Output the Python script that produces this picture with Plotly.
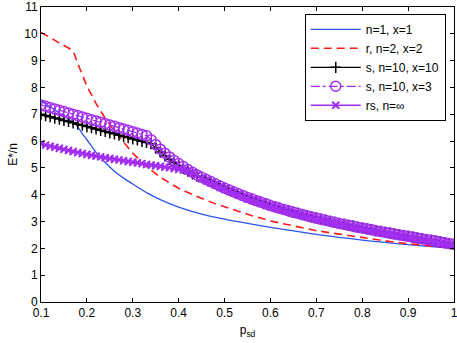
import plotly.graph_objects as go

# Colors (MATLAB-like)
COLOR_BLUE = "#2b55f0"
COLOR_RED = "#ff1a1a"
COLOR_BLACK = "#000000"
COLOR_PURPLE = "#a22cf0"

# Dense grid shared by the marker series (p_sd = 0.10 ... 1.00)
P_SD = [0.10, 0.11, 0.12, 0.13, 0.14, 0.15, 0.16, 0.17, 0.18, 0.19,
        0.20, 0.21, 0.22, 0.23, 0.24, 0.25, 0.26, 0.27, 0.28, 0.29,
        0.30, 0.31, 0.32, 0.33, 0.34, 0.35, 0.36, 0.37, 0.38, 0.39,
        0.40, 0.41, 0.42, 0.43, 0.44, 0.45, 0.46, 0.47, 0.48, 0.49,
        0.50, 0.51, 0.52, 0.53, 0.54, 0.55, 0.56, 0.57, 0.58, 0.59,
        0.60, 0.61, 0.62, 0.63, 0.64, 0.65, 0.66, 0.67, 0.68, 0.69,
        0.70, 0.71, 0.72, 0.73, 0.74, 0.75, 0.76, 0.77, 0.78, 0.79,
        0.80, 0.81, 0.82, 0.83, 0.84, 0.85, 0.86, 0.87, 0.88, 0.89,
        0.90, 0.91, 0.92, 0.93, 0.94, 0.95, 0.96, 0.97, 0.98, 0.99, 1.00]

# n=1, x=1
P_BLUE = [0.10, 0.12, 0.14, 0.16, 0.177, 0.19, 0.20, 0.22, 0.24, 0.26, 0.28, 0.30,
          0.33, 0.36, 0.40, 0.45, 0.50, 0.55, 0.60, 0.65, 0.70, 0.75, 0.80, 0.85,
          0.90, 0.95, 1.00]
E_BLUE = [7.50, 7.28, 7.05, 6.82, 6.60, 6.28, 6.05, 5.58, 5.20, 4.88, 4.62, 4.40,
          4.08, 3.82, 3.54, 3.28, 3.09, 2.93, 2.78, 2.65, 2.52, 2.41, 2.31, 2.22,
          2.14, 2.07, 2.00]

# r, n=2, x=2
P_RED = [0.10, 0.12, 0.14, 0.16, 0.17, 0.18, 0.19, 0.20, 0.22, 0.24, 0.26, 0.28,
         0.30, 0.33, 0.36, 0.40, 0.44, 0.48, 0.52, 0.56, 0.60, 0.65, 0.70, 0.75,
         0.80, 0.85, 0.90, 0.95, 1.00]
E_RED = [10.05, 9.86, 9.66, 9.47, 9.37, 8.90, 8.45, 8.05, 7.40, 6.85, 6.37, 5.95,
         5.55, 5.05, 4.65, 4.24, 3.93, 3.66, 3.43, 3.22, 3.02, 2.83, 2.66, 2.53,
         2.40, 2.28, 2.17, 2.08, 2.00]

# s, n=10, x=10 (0.10 ... 0.44)
E_S10_HEAD = [7.00, 6.95, 6.91, 6.86, 6.82, 6.77, 6.73, 6.68, 6.63, 6.59,
              6.54, 6.50, 6.45, 6.40, 6.36, 6.31, 6.27, 6.22, 6.17, 6.13,
              6.08, 6.04, 5.99, 5.95, 5.90, 5.74, 5.59, 5.45, 5.32, 5.20,
              5.09, 4.98, 4.88, 4.78, 4.69]

# s, n=10, x=3 (0.10 ... 0.44)
E_S3_HEAD = [7.35, 7.30, 7.25, 7.20, 7.15, 7.10, 7.05, 7.00, 6.95, 6.90,
             6.85, 6.80, 6.75, 6.70, 6.65, 6.60, 6.55, 6.50, 6.45, 6.40,
             6.35, 6.30, 6.25, 6.20, 6.05, 5.87, 5.70, 5.55, 5.41, 5.28,
             5.16, 5.05, 4.94, 4.84, 4.74]

# shared tail of both s curves (0.45 ... 1.00)
E_S_TAIL = [4.65, 4.57, 4.49, 4.41, 4.33, 4.25, 4.18, 4.11, 4.04, 3.97,
            3.90, 3.84, 3.78, 3.72, 3.66, 3.60, 3.55, 3.50, 3.45, 3.40,
            3.35, 3.31, 3.26, 3.22, 3.17, 3.13, 3.09, 3.05, 3.01, 2.97,
            2.93, 2.90, 2.86, 2.83, 2.79, 2.76, 2.73, 2.70, 2.66, 2.63,
            2.60, 2.57, 2.54, 2.51, 2.48, 2.45, 2.42, 2.39, 2.36, 2.33,
            2.30, 2.27, 2.24, 2.21, 2.18, 2.15]

# rs, n=inf
E_RS = [5.90, 5.85, 5.81, 5.77, 5.73, 5.69, 5.65, 5.61, 5.57, 5.54,
        5.50, 5.47, 5.44, 5.41, 5.38, 5.35, 5.32, 5.30, 5.27, 5.24,
        5.21, 5.19, 5.16, 5.13, 5.11, 5.08, 5.06, 5.03, 5.01, 4.98,
        4.95, 4.92, 4.88, 4.82, 4.74, 4.60, 4.52, 4.44, 4.36, 4.28,
        4.20, 4.13, 4.06, 3.99, 3.92, 3.85, 3.79, 3.73, 3.67, 3.61,
        3.55, 3.50, 3.45, 3.40, 3.35, 3.30, 3.26, 3.21, 3.17, 3.12,
        3.08, 3.04, 3.00, 2.96, 2.92, 2.88, 2.85, 2.81, 2.78, 2.74,
        2.71, 2.68, 2.65, 2.61, 2.58, 2.55, 2.52, 2.49, 2.46, 2.43,
        2.40, 2.37, 2.34, 2.31, 2.28, 2.25, 2.22, 2.19, 2.16, 2.13, 2.10]

X_TICKS = [0.1, 0.2, 0.3, 0.4, 0.5, 0.6, 0.7, 0.8, 0.9, 1]
X_LABELS = ["0.1", "0.2", "0.3", "0.4", "0.5", "0.6", "0.7", "0.8", "0.9", "1"]
Y_TICKS = [0, 1, 2, 3, 4, 5, 6, 7, 8, 9, 10, 11]

fig = go.Figure()

fig.add_trace(go.Scatter(
    x=P_BLUE, y=E_BLUE, mode="lines", name="n=1, x=1",
    line=dict(color=COLOR_BLUE, width=1.3, shape="spline", smoothing=0.6)
))
fig.add_trace(go.Scatter(
    x=P_RED, y=E_RED, mode="lines", name="r, n=2, x=2",
    line=dict(color=COLOR_RED, width=1.6, dash="8px,5px")
))
fig.add_trace(go.Scatter(
    x=P_SD, y=E_S10_HEAD + E_S_TAIL, mode="lines+markers", name="s, n=10, x=10",
    line=dict(color=COLOR_BLACK, width=1.3),
    marker=dict(symbol="cross-thin", size=8, line=dict(color=COLOR_BLACK, width=1.5))
))
fig.add_trace(go.Scatter(
    x=P_SD, y=E_S3_HEAD + E_S_TAIL, mode="lines+markers", name="s, n=10, x=3",
    line=dict(color=COLOR_PURPLE, width=1.3, dash="dashdot"),
    marker=dict(symbol="circle-open", size=10, color=COLOR_PURPLE, line=dict(width=1.5))
))
fig.add_trace(go.Scatter(
    x=P_SD, y=E_RS, mode="lines+markers", name="rs, n=\u221e",
    line=dict(color=COLOR_PURPLE, width=1.6),
    marker=dict(symbol="x-thin", size=7, line=dict(color=COLOR_PURPLE, width=2))
))

axis_common = dict(
    showline=True, linecolor="black", linewidth=1, mirror="ticks",
    ticks="inside", ticklen=4, tickcolor="black",
    showgrid=False, zeroline=False, automargin=False,
    ticklabeloverflow="allow",
    tickfont=dict(size=12, color="black"),
)

fig.update_layout(
    width=457, height=343,
    margin=dict(l=41, r=3, t=7, b=41),
    paper_bgcolor="white",
    plot_bgcolor="white",
    font=dict(family="Liberation Sans, Arial, sans-serif", size=12, color="black"),
    xaxis=dict(range=[0.1, 1.0], tickvals=X_TICKS, ticktext=X_LABELS,
               title=dict(text="p<sub>sd</sub>", standoff=6, font=dict(size=12)),
               **axis_common),
    yaxis=dict(range=[0, 11], tickvals=Y_TICKS,
               title=dict(text="E*/n", standoff=4, font=dict(size=12)),
               **axis_common),
    legend=dict(
        x=0.98, y=0.977, xanchor="right", yanchor="top",
        bgcolor="white", bordercolor="black", borderwidth=1,
        font=dict(size=12), tracegroupgap=0, itemwidth=50,
    ),
    showlegend=True,
)

# drop the browser's default page margin so the figure sits at the window origin
fig.write_html("out.html", config={"displayModeBar": False},
               post_script="document.body.style.margin='0';")
